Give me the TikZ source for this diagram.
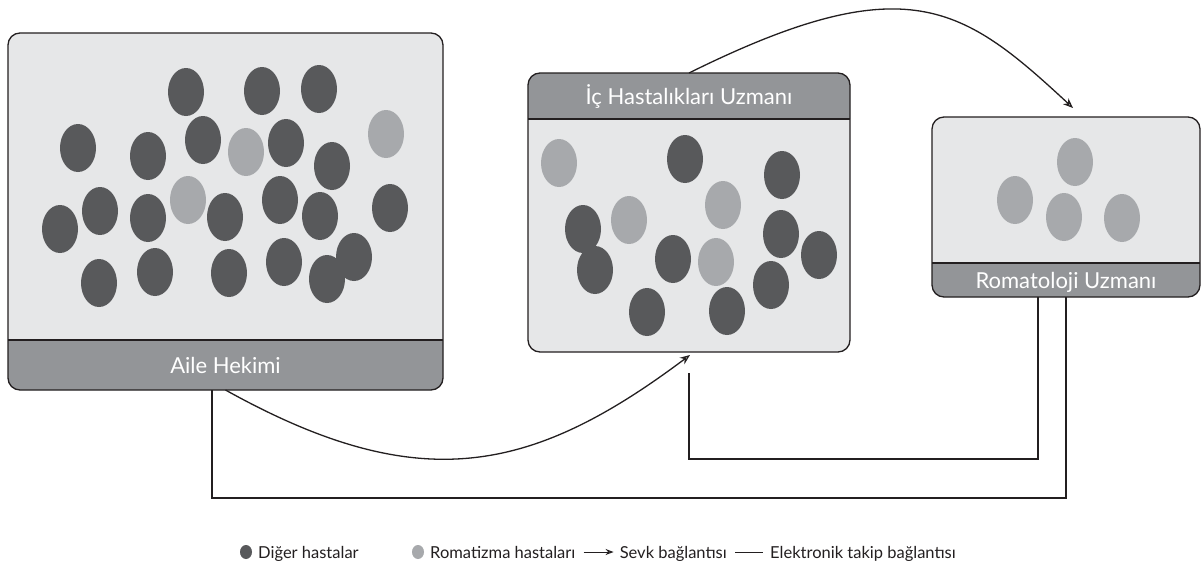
\documentclass[tikz,border=0pt]{standalone}
\usepackage{fontspec}
\setmainfont{Lato}
\usetikzlibrary{arrows.meta,calc}
\definecolor{boxfill}{HTML}{E6E7E8}
\definecolor{bandfill}{HTML}{939598}
\definecolor{darkdot}{HTML}{58595B}
\definecolor{lightdot}{HTML}{A7A9AC}
\definecolor{edge}{HTML}{231F20}
\begin{document}
\begin{tikzpicture}[x=1pt,y=-1pt,
  panel/.style={fill=boxfill, rounded corners=12pt, inner sep=0pt, outer sep=0pt},
  outline/.style={draw=edge, line width=1.3pt, rounded corners=12pt},
  sepline/.style={draw=edge, line width=1.3pt},
  bandlabel/.style={text=white, font=\fontsize{22}{26}\selectfont, inner sep=0pt, anchor=base},
  sevk/.style={draw=edge, line width=1.3pt, -{Stealth[open,length=10pt,width=8pt]}},
  elink/.style={draw=edge, line width=1.3pt},
  dk/.style={fill=darkdot}, lt/.style={fill=lightdot},
  legtext/.style={font=\fontsize{16.5}{20}\selectfont, text=edge, anchor=base west, inner sep=0pt}]
\useasboundingbox (0,0) rectangle (1202,573);
\fill[white] (0,0) rectangle (1202,573);

% ---------- Aile Hekimi ----------
\node[panel, minimum width=435pt, minimum height=357pt] (aile) at (225.5,211.5) {};
\begin{scope}
  \clip[rounded corners=12pt] (aile.south west) rectangle (aile.north east);
  \fill[bandfill] (0,340) rectangle (450,400);
\end{scope}
\draw[sepline] (aile.west |- 0,340) -- (aile.east |- 0,340);
\draw[outline] (aile.south west) rectangle (aile.north east);
\node[bandlabel] (aileL) at (225.5,373) {Aile Hekimi};

% ---------- Ic Hastaliklari Uzmani ----------
\node[panel, minimum width=322pt, minimum height=279pt] (ic) at (689,212.5) {};
\begin{scope}
  \clip[rounded corners=12pt] (ic.south west) rectangle (ic.north east);
  \fill[bandfill] (520,60) rectangle (860,119);
\end{scope}
\draw[sepline] (ic.west |- 0,119) -- (ic.east |- 0,119);
\draw[outline] (ic.south west) rectangle (ic.north east);
\node[bandlabel] (icL) at (689,104) {İç Hastalıkları Uzmanı};

% ---------- Romatoloji Uzmani ----------
\node[panel, minimum width=268pt, minimum height=180pt] (rom) at (1066,207) {};
\begin{scope}
  \clip[rounded corners=12pt] (rom.south west) rectangle (rom.north east);
  \fill[bandfill] (920,263) rectangle (1210,310);
\end{scope}
\draw[sepline] (rom.west |- 0,263) -- (rom.east |- 0,263);
\draw[outline] (rom.south west) rectangle (rom.north east);
\node[bandlabel] (romL) at (1066,288) {Romatoloji Uzmanı};

% ---------- patients ----------
\foreach \x/\y in {186/92,262/91,319/89,78/148,148/156,203/140,286/143,332/166,
  100/211,148/218,60/229,225/217,280/200,320/216,390/208,
  99/283,155/272,229/273,284/262,354/257,327/279}
  \fill[dk] (\x,\y) ellipse [x radius=18pt, y radius=24pt];
\foreach \x/\y in {188/200,246/152,386/134}
  \fill[lt] (\x,\y) ellipse [x radius=18pt, y radius=24pt];

\foreach \x/\y in {685/159,782/175,583/229,781/234,595/270,673/259,819/255,771/285,647/312,727/311}
  \fill[dk] (\x,\y) ellipse [x radius=18pt, y radius=24pt];
\foreach \x/\y in {559/163,629/220,723/205,716/262}
  \fill[lt] (\x,\y) ellipse [x radius=18pt, y radius=24pt];

\foreach \x/\y in {1075/162,1015/200,1064/217,1122/218}
  \fill[lt] (\x,\y) ellipse [x radius=18pt, y radius=24pt];

% ---------- connectors ----------
\coordinate (icin) at ($(ic.south)+(1,3)$);
\coordinate (romin) at ($(rom.north)+(7,-9)$);
\draw[sevk] (aile.south) .. controls (418,497) and (530,475) .. (icin);
\draw[sevk] (ic.north) .. controls (907,-35) and (963,6) .. (romin);

\draw[elink] ([xshift=-13.5pt]aile.south) -- ++(0,108) -| (rom.south);
\draw[elink] ([yshift=-21pt]ic.south) -- ++(0,86) -| ([xshift=-28pt]rom.south);

% ---------- legend ----------
\fill[dk] (246,552) ellipse [x radius=6pt, y radius=7pt];
\node[legtext] (l1) at (258,558) {Diğer hastalar};
\fill[lt] (418,552) ellipse [x radius=6pt, y radius=7pt];
\node[legtext] (l2) at (430,558) {Romatizma hastaları};
\coordinate (a0) at ($(l2.base east)+(8,-6)$);
\coordinate (a1) at ($(a0)+(30,0)$);
\draw[edge, line width=1pt, -{Stealth[open,length=8pt,width=6pt]}] (a0) -- (a1);
\node[legtext] (l3) at ($(a1)+(6,6)$) {Sevk bağlantısı};
\coordinate (b0) at ($(l3.base east)+(8,-6)$);
\coordinate (b1) at ($(b0)+(28,0)$);
\draw[edge, line width=1pt] (b0) -- (b1);
\node[legtext] (l4) at ($(b1)+(7,6)$) {Elektronik takip bağlantısı};
\end{tikzpicture}
\end{document}
